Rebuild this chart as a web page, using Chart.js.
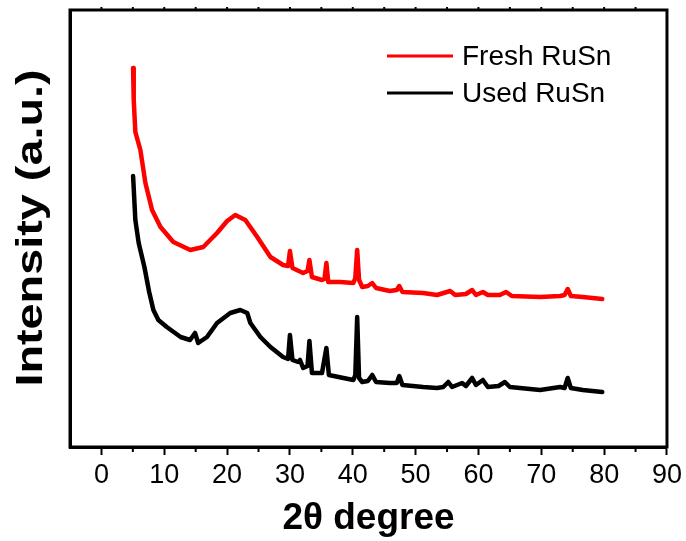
<!DOCTYPE html>
<html>
<head>
<meta charset="utf-8">
<script src="https://cdn.jsdelivr.net/npm/chart.js@4"></script>
<style>
    html, body { margin: 0; padding: 0; background: #fff; }
    #box { width: 686px; height: 541px; }
</style>
</head>
<body>
<div id="box"><canvas id="graficoXrd"></canvas></div>
<script>
"use strict";

/********************************************************************
 * Dados
 ********************************************************************/
const xTicks = [0, 10, 20, 30, 40, 50, 60, 70, 80, 90];

const freshTheta = [
    5.04, 5.14, 5.4, 6.2, 7.0, 8.06, 9.4, 11.45, 14.15, 16.2, 18.4, 20.0, 21.3, 22.9,
    24.8, 26.9, 28.9, 29.7, 30.0, 30.4, 32.1, 32.8, 33.1, 33.5, 35.1, 35.5, 35.8, 36.1, 38.0,
    40.1, 40.4, 40.7, 41.0, 41.5, 42.4, 43.1, 43.7, 45.9, 47.0, 47.4, 47.9, 51.2, 53.4, 55.5,
    56.3, 58.0, 59.0, 59.6, 60.7, 61.5, 63.4, 64.4, 65.3, 69.8, 73.0, 73.7, 74.2, 74.7, 76.6, 79.7
];
const freshIntensity = [
    379, 347, 315, 297, 264, 237, 220, 205, 197, 200, 214, 226, 232, 227,
    210, 190, 182, 181, 196, 179, 174, 176, 187, 170, 167, 168, 184, 165, 165,
    164, 169, 197, 167, 160, 161, 164, 159, 156, 157, 161, 155, 154, 152, 156,
    152, 153, 157, 152, 155, 152, 152, 155, 151, 150, 151, 152, 158, 151, 150, 148
];

const usedTheta = [
    5.04, 5.4, 5.93, 6.84, 7.6, 8.27, 9.06, 10.4, 12.6, 14.1, 14.9, 15.4, 16.8, 18.4, 20.5, 22.1,
    23.2, 23.7, 25.3, 26.9, 28.9, 29.7, 30.0, 30.4, 31.3, 31.6, 32.1, 32.8, 33.1, 33.5, 35.1,
    35.8, 36.2, 38.5, 40.1, 40.4, 40.7, 41.0, 41.5, 42.4, 43.1, 43.7, 45.9, 47.0, 47.4, 47.9,
    51.2, 53.4, 54.4, 55.2, 55.8, 57.4, 58.0, 59.0, 59.6, 60.7, 61.5, 63.2, 64.2, 65.0, 69.8,
    73.0, 73.7, 74.2, 74.7, 76.6, 79.7
];
const usedIntensity = [
    271, 227, 204, 180, 155, 137, 127, 120, 110, 107, 114, 104, 110, 124, 134, 137,
    134, 124, 110, 100, 90, 88, 112, 87, 85, 87, 79, 81, 106, 74, 74,
    99, 72, 69, 67, 72, 130, 69, 65, 66, 72, 65, 64, 64, 71, 62,
    60, 59, 60, 65, 60, 64, 61, 69, 62, 67, 60, 61, 65, 60, 57,
    60, 59, 69, 59, 57, 55
];

const fonte = "'Liberation Sans', Arial, sans-serif";

function pontos(xs, ys) {
    return xs.map((x, i) => ({ x: x, y: ys[i] }));
}

/********************************************************************
 * Moldura, ticks menores, título do eixo Y e legenda
 ********************************************************************/
const molduraPlugin = {

    id: "moldura",

    afterDraw(chart) {

        const ctx = chart.ctx;
        const a = chart.chartArea;
        const sx = chart.scales.x;

        ctx.save();

        ctx.strokeStyle = "#000";
        ctx.lineWidth = 3;
        ctx.strokeRect(a.left, a.top, a.right - a.left, a.bottom - a.top);

        ctx.lineWidth = 2;

        for (let v = 5; v <= 85; v += 10) {
            const px = sx.getPixelForValue(v);
            ctx.beginPath();
            ctx.moveTo(px, a.bottom);
            ctx.lineTo(px, a.bottom + 5);
            ctx.stroke();
        }

        for (let v = 0; v <= 85; v += 5) {
            const px = sx.getPixelForValue(v);
            ctx.beginPath();
            ctx.moveTo(px, a.top);
            ctx.lineTo(px, a.top - 3);
            ctx.stroke();
        }

        // título Y (fonte esticada como no original)
        ctx.save();
        ctx.translate(42, 228);
        ctx.rotate(-Math.PI / 2);
        ctx.scale(1.3, 1);
        ctx.font = "bold 36px " + fonte;
        ctx.textAlign = "center";
        ctx.textBaseline = "alphabetic";
        ctx.fillStyle = "#000";
        ctx.fillText("Intensity (a.u.)", 0, 0);
        ctx.restore();

        // legenda
        const itens = [
            { texto: "Fresh RuSn", cor: "#ff0000", y: 56 },
            { texto: "Used RuSn", cor: "#000000", y: 93 }
        ];

        ctx.font = "28px " + fonte;
        ctx.textBaseline = "middle";
        ctx.textAlign = "left";
        ctx.fillStyle = "#000";

        itens.forEach(it => {
            ctx.strokeStyle = it.cor;
            ctx.lineWidth = 3;
            ctx.beginPath();
            ctx.moveTo(387, it.y);
            ctx.lineTo(453, it.y);
            ctx.stroke();
            ctx.fillText(it.texto, 462, it.y + 1);
        });

        ctx.restore();

    }

};

/********************************************************************
 * Gráfico
 ********************************************************************/
new Chart(document.getElementById("graficoXrd"), {

    type: "line",

    data: {

        datasets: [

            {
                label: "Fresh RuSn",
                data: pontos(freshTheta, freshIntensity),
                borderColor: "#ff0000",
                borderWidth: 4.5,
                borderJoinStyle: "round",
                borderCapStyle: "round",
                pointRadius: 0,
                tension: 0
            },

            {
                label: "Used RuSn",
                data: pontos(usedTheta, usedIntensity),
                borderColor: "#000000",
                borderWidth: 4.5,
                borderJoinStyle: "round",
                borderCapStyle: "round",
                pointRadius: 0,
                tension: 0
            }

        ]

    },

    options: {

        responsive: true,
        maintainAspectRatio: false,
        animation: false,

        layout: {
            padding: { top: 10, right: 19, left: 0, bottom: 0 }
        },

        plugins: {
            legend: { display: false },
            tooltip: { enabled: false }
        },

        scales: {

            x: {
                type: "linear",
                min: -5,
                max: 90,
                afterBuildTicks: s => { s.ticks = xTicks.map(v => ({ value: v })); },
                afterFit: s => { s.height = 94; },
                ticks: {
                    color: "#000",
                    font: { family: fonte, size: 27 },
                    padding: 4,
                    maxRotation: 0
                },
                grid: {
                    drawOnChartArea: false,
                    tickLength: 8,
                    tickWidth: 2,
                    color: "#000"
                },
                border: { color: "#000", width: 3 },
                title: {
                    display: true,
                    text: "2θ degree",
                    color: "#000",
                    font: { family: fonte, size: 37, weight: "bold" },
                    padding: { top: 0, bottom: 0 }
                }
            },

            y: {
                min: 0,
                max: 437,
                afterFit: s => { s.width = 70; },
                ticks: { display: false },
                grid: { display: false },
                border: { color: "#000", width: 3 }
            }

        }

    },

    plugins: [molduraPlugin]

});
</script>
</body>
</html>
